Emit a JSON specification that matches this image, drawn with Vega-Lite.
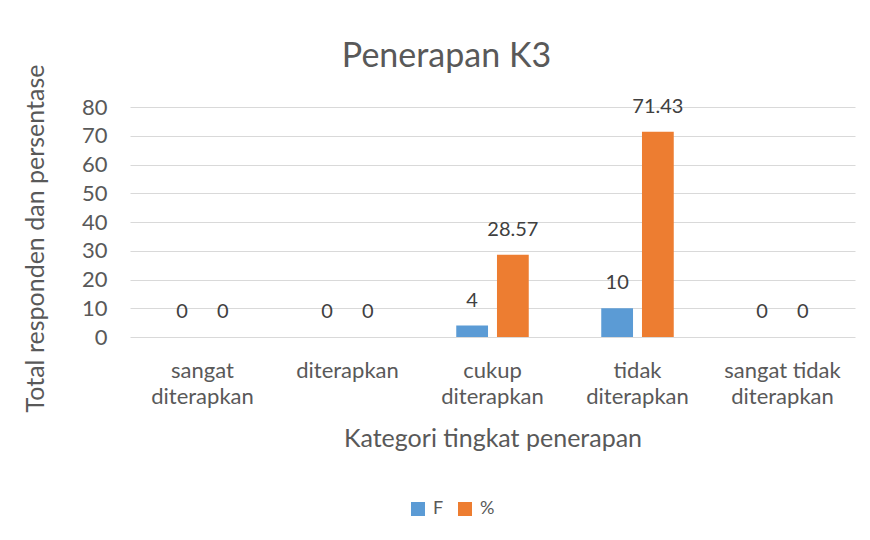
{
  "$schema": "https://vega.github.io/schema/vega-lite/v6.json",
  "width": 725,
  "height": 230,
  "autosize": {"type": "none"},
  "padding": {"left": 130, "top": 107, "right": 15, "bottom": 203},
  "background": "white",
  "title": {
    "text": "Penerapan K3",
    "font": "Lato",
    "fontSize": 34,
    "fontWeight": "normal",
    "color": "#595959",
    "anchor": "middle",
    "offset": 10,
    "dx": -46,
    "dy": 20
  },
  "config": {
    "font": "Lato",
    "view": {"stroke": null}
  },
  "data": {
    "values": [
      {"kategori": "sangat diterapkan", "seri": "F", "nilai": 0},
      {"kategori": "sangat diterapkan", "seri": "%", "nilai": 0},
      {"kategori": "diterapkan", "seri": "F", "nilai": 0},
      {"kategori": "diterapkan", "seri": "%", "nilai": 0},
      {"kategori": "cukup diterapkan", "seri": "F", "nilai": 4},
      {"kategori": "cukup diterapkan", "seri": "%", "nilai": 28.57},
      {"kategori": "tidak diterapkan", "seri": "F", "nilai": 10},
      {"kategori": "tidak diterapkan", "seri": "%", "nilai": 71.43},
      {"kategori": "sangat tidak diterapkan", "seri": "F", "nilai": 0},
      {"kategori": "sangat tidak diterapkan", "seri": "%", "nilai": 0}
    ]
  },
  "encoding": {
    "x": {
      "field": "kategori",
      "type": "nominal",
      "sort": null,
      "scale": {"paddingInner": 0.5, "paddingOuter": 0.25},
      "axis": {
        "title": "Kategori tingkat penerapan",
        "titleFont": "Lato",
        "titleFontSize": 25,
        "titleFontWeight": "normal",
        "titleColor": "#595959",
        "titleY": 89,
        "titleBaseline": "top",
        "labelAngle": 0,
        "labelFontSize": 22,
        "labelColor": "#595959",
        "labelPadding": 23,
        "labelLineHeight": 26,
        "labelExpr": "datum.label == 'diterapkan' ? datum.label : [replace(datum.label, ' diterapkan', ''), 'diterapkan']",
        "ticks": false,
        "tickSize": 0,
        "domain": false,
        "grid": false
      }
    },
    "xOffset": {
      "field": "seri",
      "type": "nominal",
      "sort": ["F", "%"],
      "scale": {"paddingInner": 0.22, "paddingOuter": 0}
    },
    "y": {
      "field": "nilai",
      "type": "quantitative",
      "scale": {"domain": [0, 80], "nice": false},
      "axis": {
        "title": "Total responden dan persentase",
        "titleFont": "Lato",
        "titleFontSize": 25,
        "titleFontWeight": "normal",
        "titleColor": "#595959",
        "titleX": -95,
        "titleY": 131,
        "titleBaseline": "middle",
        "values": [0, 10, 20, 30, 40, 50, 60, 70, 80],
        "labelFontSize": 22,
        "labelColor": "#595959",
        "labelPadding": 23,
        "ticks": false,
        "tickSize": 0,
        "domain": false,
        "grid": true,
        "gridColor": "#d9d9d9",
        "gridWidth": 1
      }
    }
  },
  "layer": [
    {
      "mark": {"type": "bar"},
      "encoding": {
        "color": {
          "field": "seri",
          "type": "nominal",
          "sort": ["F", "%"],
          "scale": {"domain": ["F", "%"], "range": ["#5B9BD5", "#ED7D31"]},
          "legend": {
            "title": null,
            "orient": "none",
            "legendX": 279,
            "legendY": 393,
            "direction": "horizontal",
            "symbolType": "square",
            "symbolSize": 196,
            "symbolStrokeWidth": 0,
            "labelFontSize": 18,
            "labelColor": "#595959",
            "labelOffset": 6,
            "columnPadding": 12
          }
        }
      }
    },
    {
      "mark": {"type": "text", "baseline": "alphabetic", "dy": -19, "fontSize": 20, "color": "#404040"},
      "encoding": {
        "text": {"field": "nilai", "type": "quantitative"}
      }
    }
  ]
}
